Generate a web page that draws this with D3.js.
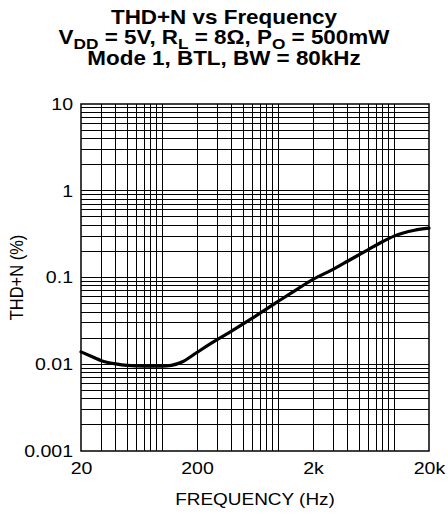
<!DOCTYPE html>
<html>
<head>
<meta charset="utf-8">
<script src="https://cdn.jsdelivr.net/npm/d3@7"></script>
<style>
  body { margin: 0; background: #fff; }
  svg { display: block; font-family: "Liberation Sans", Arial, Helvetica, sans-serif; }
</style>
</head>
<body>
<svg id="chart" width="448" height="522"></svg>
<script>
// Data
const frequencyHz = [20, 25, 30, 40, 50, 70, 100, 120, 150, 200, 300, 400, 600, 1000, 1500, 2000, 3000, 4000, 6000, 8000, 10000, 15000, 20000];
const thdPercent  = [0.0139, 0.0122, 0.0110, 0.0101, 0.0097, 0.0095, 0.0095, 0.0097, 0.0107, 0.0137, 0.0193, 0.0243, 0.0340, 0.053, 0.075, 0.095, 0.125, 0.155, 0.21, 0.26, 0.30, 0.35, 0.37];
const xTickValues = [20, 200, 2000, 20000];
const xTickLabels = ["20", "200", "2k", "20k"];
const yTickValues = [0.001, 0.01, 0.1, 1, 10];
const yTickLabels = ["0.001", "0.01", "0.1", "1", "10"];

const svg = d3.select("#chart");
const pL = 81, pR = 429, pT = 104, pB = 451;
const SX = 1.15; // horizontal stretch of the reference lettering

const x = d3.scaleLog().domain([20, 20000]).range([pL, pR]);
const y = d3.scaleLog().domain([0.001, 10]).range([pB, pT]);

// minor grid values
const xGrid = [];
[10, 100, 1000, 10000].forEach(d => { for (let m = 1; m <= 9; m++) { const v = d * m; if (v > 20 && v < 20000) xGrid.push(v); } });
const yGrid = [];
[0.001, 0.01, 0.1, 1].forEach(d => { for (let m = 2; m <= 9; m++) yGrid.push(d * m); });
[0.01, 0.1, 1].forEach(v => yGrid.push(v));

const grid = svg.append("g").attr("stroke", "#000").attr("stroke-width", 1).attr("shape-rendering", "crispEdges");
grid.selectAll(".vx").data(xGrid).join("line")
  .attr("x1", d => x(d)).attr("x2", d => x(d)).attr("y1", pT).attr("y2", pB);
grid.selectAll(".hy").data(yGrid).join("line")
  .attr("y1", d => y(d)).attr("y2", d => y(d)).attr("x1", pL).attr("x2", pR);

svg.append("rect").attr("x", pL).attr("y", pT).attr("width", pR - pL).attr("height", pB - pT)
  .attr("fill", "none").attr("stroke", "#000").attr("stroke-width", 1.5);

// axes (labels only)
const xAxis = d3.axisBottom(x).tickValues(xTickValues).tickFormat((d, i) => xTickLabels[i]).tickSize(0).tickPadding(11);
const gx = svg.append("g").attr("transform", `translate(0,${pB})`).call(xAxis);
gx.select(".domain").remove();
gx.selectAll("text").attr("font-size", 17).attr("fill", "#000")
  .attr("font-family", "Liberation Sans, Arial, sans-serif")
  .attr("transform", `scale(${SX},1)`);

const yAxis = d3.axisLeft(y).tickValues(yTickValues).tickFormat((d, i) => yTickLabels[i]).tickSize(0).tickPadding(8 / SX);
const gy = svg.append("g").attr("transform", `translate(${pL},0)`).call(yAxis);
gy.select(".domain").remove();
gy.selectAll("text").attr("font-size", 17).attr("fill", "#000")
  .attr("font-family", "Liberation Sans, Arial, sans-serif")
  .attr("transform", `scale(${SX},1)`);

// curve
const line = d3.line().x((d, i) => x(frequencyHz[i])).y(d => y(d)).curve(d3.curveMonotoneX);
svg.append("path").datum(thdPercent).attr("d", line)
  .attr("fill", "none").attr("stroke", "#000").attr("stroke-width", 3.2).attr("stroke-linecap", "round");

// titles
function stretched(cx, cy) {
  return svg.append("g").attr("transform", `translate(${cx},${cy}) scale(${SX},1)`);
}
const t1 = stretched(224, 24).append("text").attr("font-weight", "bold").attr("font-size", 19.5).attr("text-anchor", "middle").text("THD+N vs Frequency");
const t2 = stretched(224, 44).append("text").attr("font-weight", "bold").attr("font-size", 19.5).attr("text-anchor", "middle");
t2.append("tspan").text("V");
t2.append("tspan").attr("font-size", 15).attr("dy", 5).text("DD");
t2.append("tspan").attr("dy", -5).text(" = 5V, R");
t2.append("tspan").attr("font-size", 15).attr("dy", 5).text("L");
t2.append("tspan").attr("dy", -5).text(" = 8Ω, P");
t2.append("tspan").attr("font-size", 15).attr("dy", 5).text("O");
t2.append("tspan").attr("dy", -5).text(" = 500mW");
stretched(224, 65).append("text").attr("font-weight", "bold").attr("font-size", 19.5).attr("text-anchor", "middle").text("Mode 1, BTL, BW = 80kHz");

stretched((pL + pR) / 2, 505).append("text").attr("text-anchor", "middle")
  .attr("font-size", 16.5).text("FREQUENCY (Hz)");
svg.append("text").attr("transform", `translate(23,${(pT + pB) / 2}) rotate(-90) scale(1,${SX})`).attr("text-anchor", "middle")
  .attr("font-size", 16.5).text("THD+N (%)");
</script>
</body>
</html>
